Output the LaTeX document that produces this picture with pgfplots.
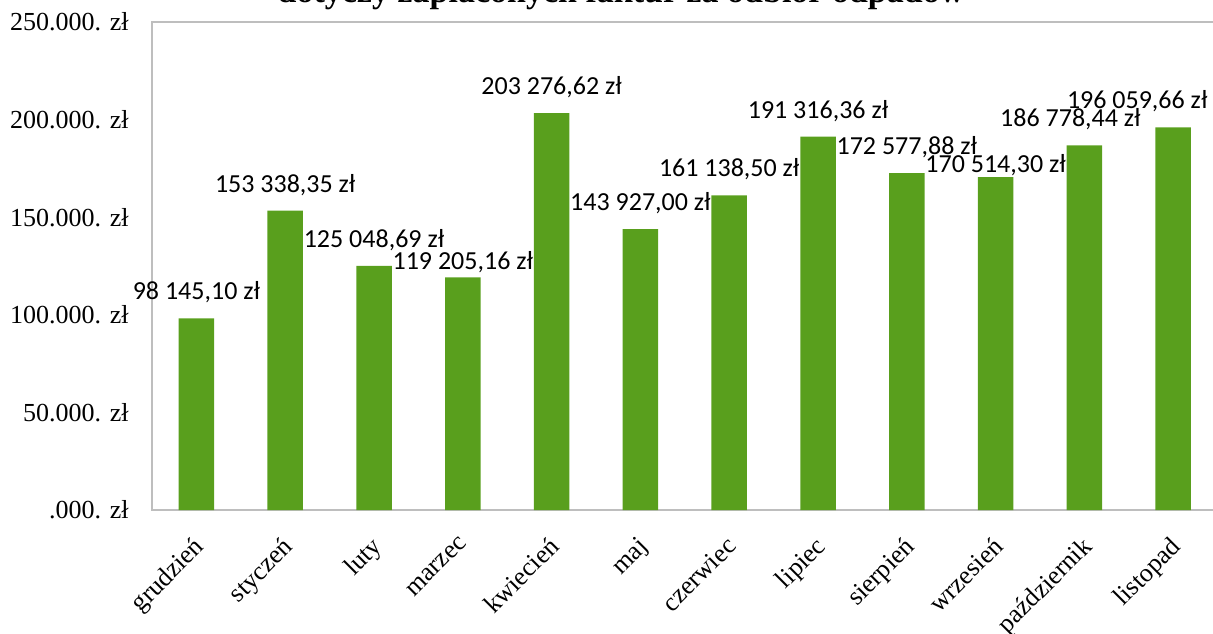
\documentclass[border=0pt]{standalone}
\usepackage{pgfplots}
\pgfplotsset{compat=1.18}
\usepackage{fontspec}
\setmainfont{Liberation Serif}
\newfontfamily\carlito{Carlito}
\definecolor{barGreen}{RGB}{89,159,29}
\definecolor{axGray}{RGB}{190,190,190}
% label with its own horizontal / vertical nudge (as Excel moved some of them)
\protected\def\lbl#1#2#3{\raisebox{#2}{\hbox to 0pt{\hss\kern#1\relax #3\kern-#1\relax\hss}}}
\begin{document}
\begin{tikzpicture}
\begin{axis}[
    scale only axis,
    width=532.8pt, height=244pt,
    xmin=-0.5, xmax=11.5,
    ymin=0, ymax=250000,
    ytick={0,50000,100000,150000,200000,250000},
    yticklabels={.000. zł,50.000. zł,100.000. zł,150.000. zł,200.000. zł,250.000. zł},
    xtick={0,...,11},
    xticklabels={grudzień,styczeń,luty,marzec,kwiecień,maj,czerwiec,lipiec,sierpień,wrzesień,październik,listopad},
    major tick length=0pt,
    axis line style={axGray, line width=0.8pt},
    tick label style={font=\fontsize{13}{15}\selectfont},
    yticklabel style={inner sep=0pt, xshift=-11.5pt},
    xticklabel style={xshift=-2pt, yshift=-12.5pt, rotate=45, anchor=north east, inner sep=0pt},
    scaled y ticks=false,
    ybar, bar width=17.75pt,
    point meta=explicit symbolic,
    nodes near coords,
    every node near coord/.style={font=\carlito\fontsize{13}{15}\selectfont, anchor=base, inner sep=0pt, yshift=9.25pt, black},
]
\addplot[fill=barGreen, draw=none] coordinates {
    (0,98145.10) [98 145,10 zł]
    (1,153338.35) [153 338,35 zł]
    (2,125048.69) [125 048,69 zł]
    (3,119205.16) [\lbl{0pt}{-5.5pt}{119 205,16 zł}]
    (4,203276.62) [203 276,62 zł]
    (5,143927.00) [143 927,00 zł]
    (6,161138.50) [161 138,50 zł]
    (7,191316.36) [191 316,36 zł]
    (8,172577.88) [172 577,88 zł]
    (9,170514.30) [\lbl{0pt}{-7pt}{170 514,30 zł}]
    (10,186778.44) [\lbl{-7pt}{0pt}{186 778,44 zł}]
    (11,196059.66) [\lbl{-18pt}{0pt}{196 059,66 zł}]
};
\end{axis}
\node[anchor=base, inner sep=0pt, font=\bfseries\fontsize{17}{20}\selectfont] at (234.5pt,253.5pt) {dotyczy zapłaconych faktur za odbiór odpadów};
\pgfresetboundingbox
\useasboundingbox (-76pt,-61.5pt) rectangle (530.5pt,255pt);
\end{tikzpicture}
\end{document}
